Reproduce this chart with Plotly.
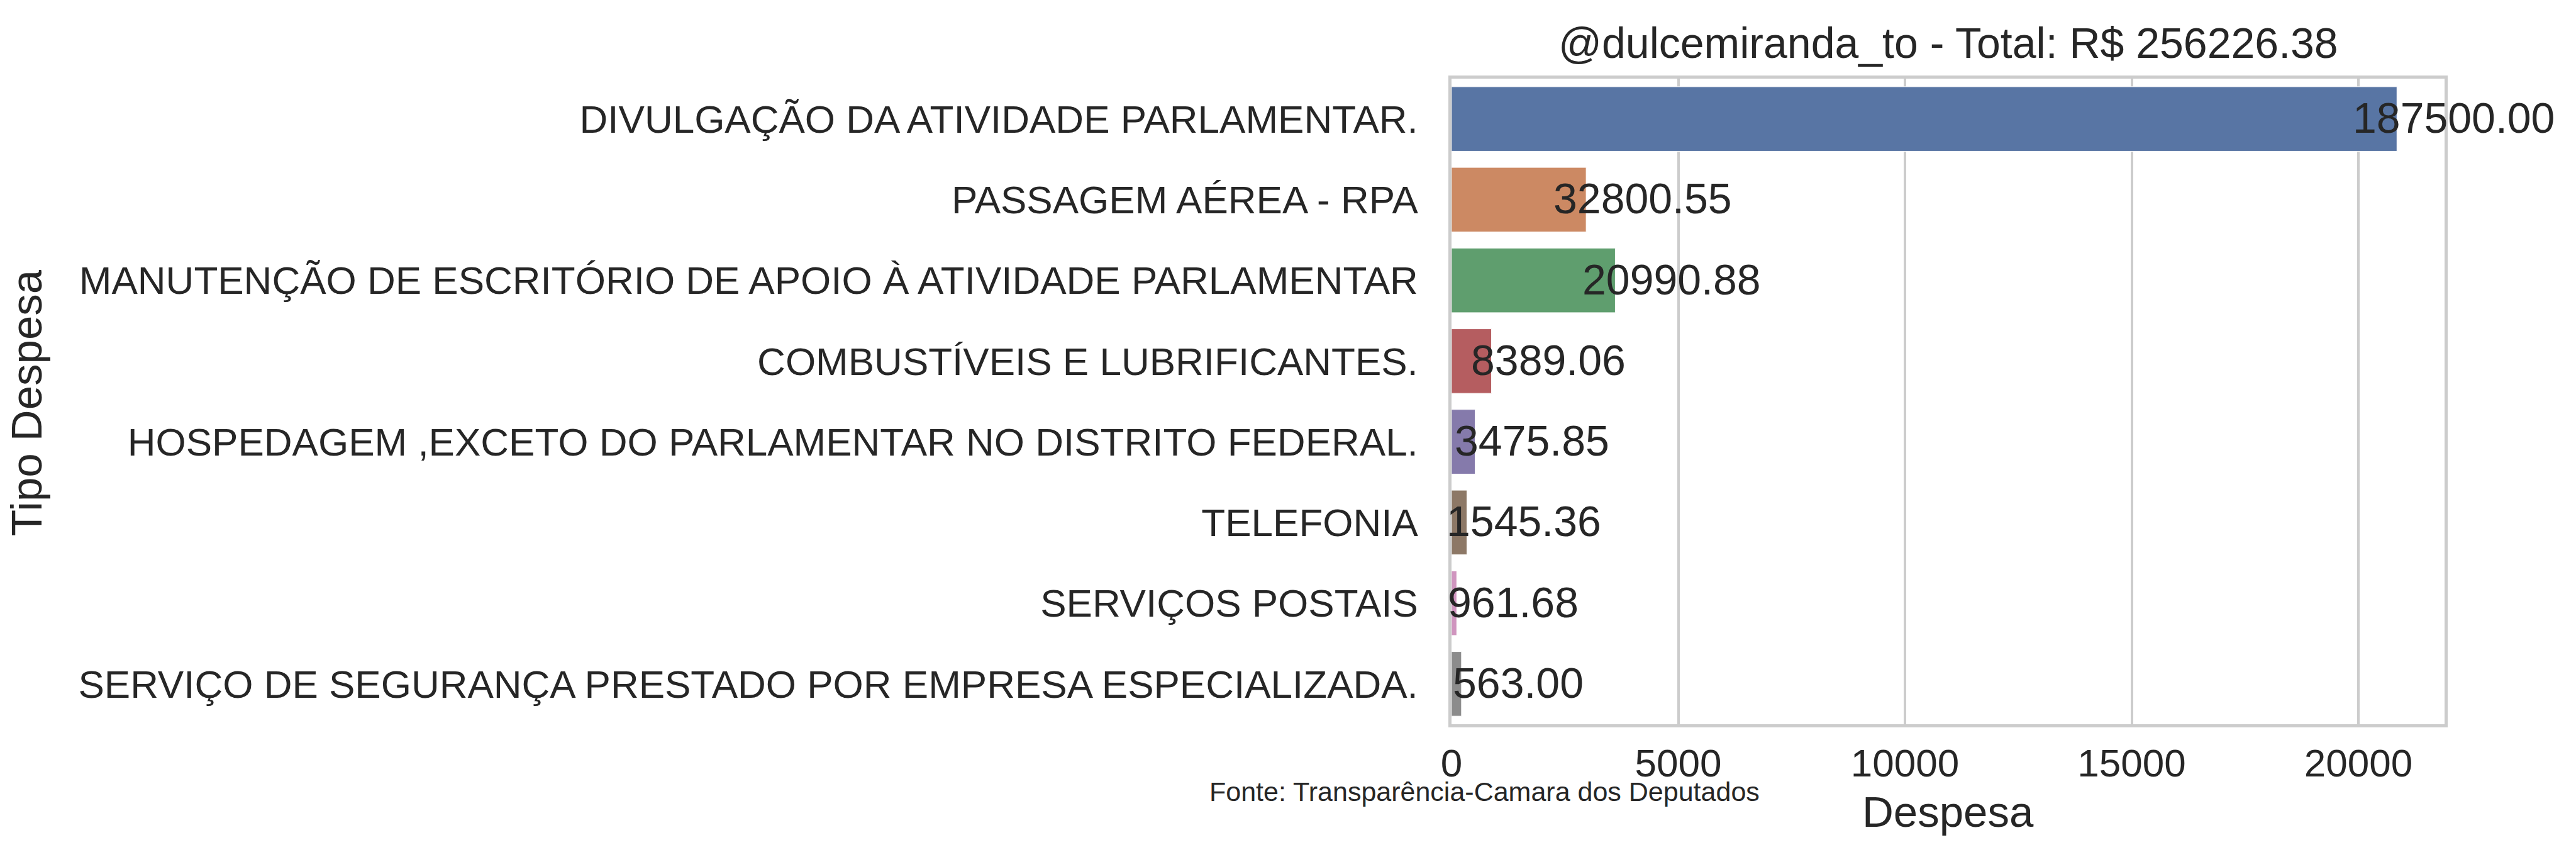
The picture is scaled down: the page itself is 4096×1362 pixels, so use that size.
import plotly.graph_objects as go

categorias = [
    "DIVULGAÇÃO DA ATIVIDADE PARLAMENTAR.",
    "PASSAGEM AÉREA - RPA",
    "MANUTENÇÃO DE ESCRITÓRIO DE APOIO À ATIVIDADE PARLAMENTAR",
    "COMBUSTÍVEIS E LUBRIFICANTES.",
    "HOSPEDAGEM ,EXCETO DO PARLAMENTAR NO DISTRITO FEDERAL.",
    "TELEFONIA",
    "SERVIÇOS POSTAIS",
    "SERVIÇO DE SEGURANÇA PRESTADO POR EMPRESA ESPECIALIZADA.",
]
despesa_media = [20850, 2970, 3612, 882, 521, 340, 115, 220]
despesa_total = [187500.00, 32800.55, 20990.88, 8389.06, 3475.85, 1545.36, 961.68, 563.00]
cores = ["#5875a4", "#cc8963", "#5f9e6e", "#b55d60", "#857aab", "#8d7866", "#d095bf", "#8c8c8c"]
x_ticks = [0, 5000, 10000, 15000, 20000]
titulo = "@dulcemiranda_to - Total: R$ 256226.38"
fonte = "Fonte: Transparência-Camara dos Deputados"

FONT = "Liberation Sans, Arial, sans-serif"
TXT = "#262626"
W, H = 4096, 1362
L, R, T, B = 2300, 217, 117, 219
ph = H - T - B
pw = W - L - R

def py(pix):
    return (H - B - pix) / ph

def px(pix):
    return (pix - L) / pw

fig = go.Figure()
fig.add_trace(go.Bar(
    x=despesa_media, y=categorias, orientation="h",
    marker=dict(color=cores, line=dict(color="white", width=1)),
    showlegend=False, hoverinfo="skip",
))

annotations = []
for cat, m, t in zip(categorias, despesa_media, despesa_total):
    annotations.append(dict(
        x=m, y=cat, xref="x", yref="y", text=f"{t:.2f}", showarrow=False,
        xanchor="center", yanchor="middle", xshift=90, yshift=2,
        font=dict(family=FONT, size=68, color=TXT),
    ))

annotations += [
    dict(x=0.5, y=py(60), xref="paper", yref="paper", text=titulo, showarrow=False,
         xanchor="center", yanchor="middle", font=dict(family=FONT, size=68, color=TXT)),
    dict(x=0.5, y=py(1282), xref="paper", yref="paper", text="Despesa", showarrow=False,
         xanchor="center", yanchor="middle", font=dict(family=FONT, size=69, color=TXT)),
    dict(x=px(34), y=py(632), xref="paper", yref="paper", text="Tipo Despesa", showarrow=False,
         textangle=-90, xanchor="center", yanchor="middle", font=dict(family=FONT, size=69, color=TXT)),
    dict(x=px(2352), y=py(1250), xref="paper", yref="paper", text=fonte, showarrow=False,
         xanchor="center", yanchor="middle", font=dict(family=FONT, size=43, color=TXT)),
]

fig.update_layout(
    width=W, height=H,
    margin=dict(l=L, r=R, t=T, b=B, pad=0),
    paper_bgcolor="white", plot_bgcolor="white",
    bargap=0.2,
    font=dict(family=FONT, color=TXT),
    annotations=annotations,
    xaxis=dict(
        range=[0, 21900], tickvals=x_ticks, ticktext=[str(v) for v in x_ticks],
        showgrid=True, gridcolor="#cccccc", gridwidth=3.5, zeroline=False,
        showline=True, linecolor="#cccccc", linewidth=4.5, mirror=True,
        ticks="", ticklabelstandoff=4,
        tickfont=dict(family=FONT, size=62, color=TXT),
    ),
    yaxis=dict(
        range=[7.5, -0.5], showgrid=False, zeroline=False,
        showline=True, linecolor="#cccccc", linewidth=4.5, mirror=True,
        ticks="", ticklabelstandoff=36,
        tickfont=dict(family=FONT, size=62, color=TXT),
    ),
)

fig.write_html("out.html")
